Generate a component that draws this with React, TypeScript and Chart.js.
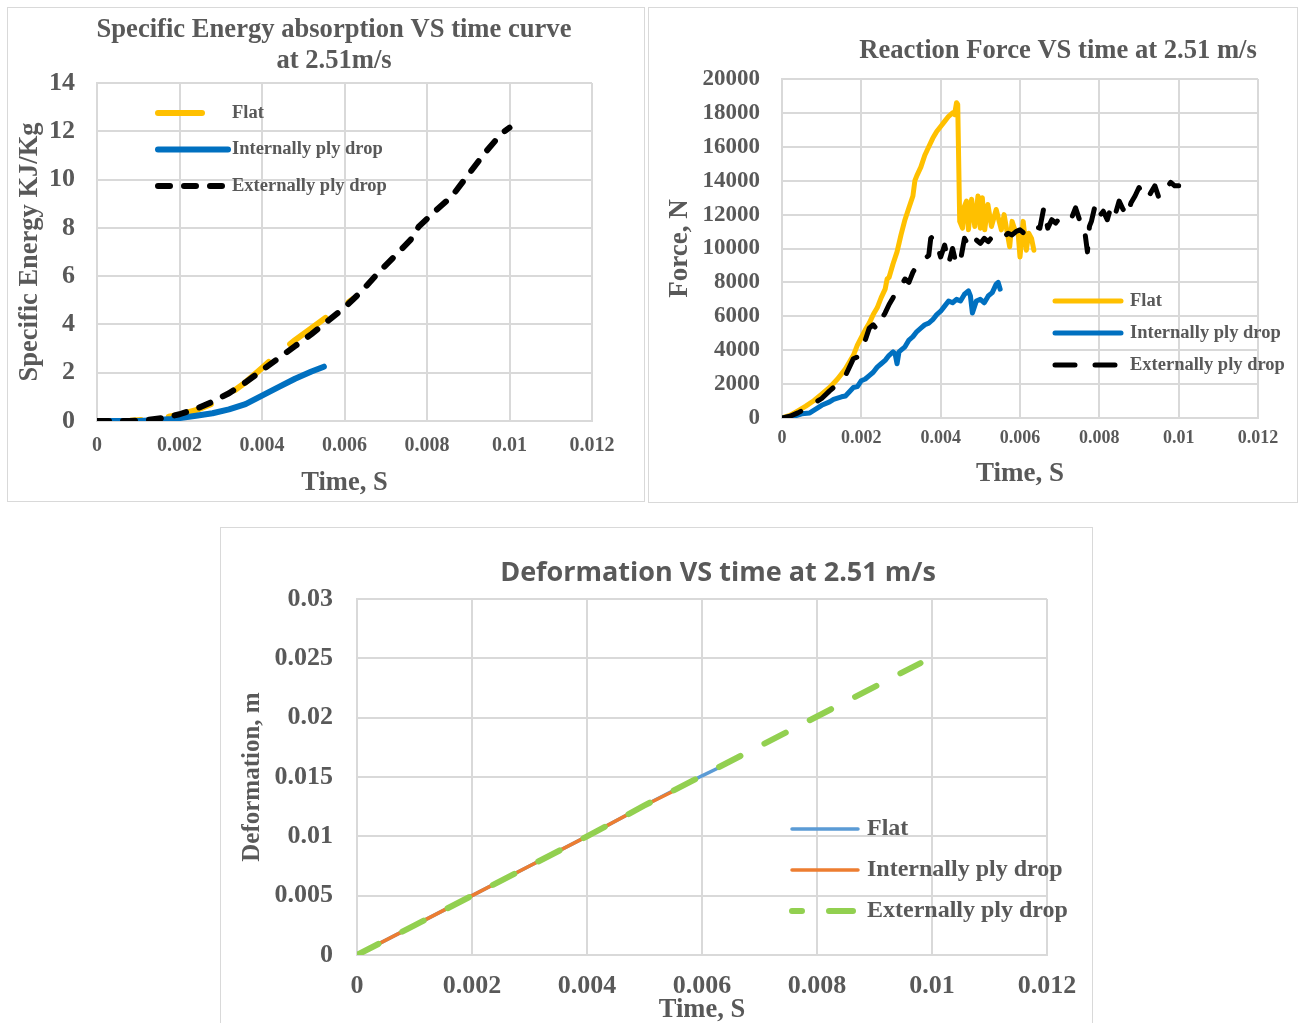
import React, { useEffect, useRef } from "react";
import { Chart, registerables } from "chart.js";

Chart.register(...registerables);

const SERIF = '"Liberation Serif", "Times New Roman", serif';
const SANS = '"Open Sans", "Noto Sans", sans-serif';
const GRAY = "#595959";
const GRID = "#D9D9D9";

// ---------- Chart 1: Specific energy ----------
const energyFlatTime = [0, 0.0008, 0.0012, 0.0016, 0.002, 0.0024, 0.0028, 0.0032, 0.0036, 0.004, 0.0044, 0.0048, 0.0052, 0.0056, 0.006, 0.0062];
const energyFlat = [0, 0.01, 0.05, 0.13, 0.26, 0.45, 0.72, 1.1, 1.6, 2.2, 2.8, 3.35, 3.85, 4.35, 4.8, 5.05];
const energyInternalTime = [0, 0.001, 0.0014, 0.0018, 0.002, 0.0024, 0.0028, 0.0032, 0.0036, 0.004, 0.0044, 0.0048, 0.0052, 0.0055];
const energyInternal = [0, 0, 0.03, 0.08, 0.12, 0.22, 0.32, 0.48, 0.7, 1.05, 1.4, 1.75, 2.05, 2.25];
const energyExternalTime = [0, 0.0008, 0.0012, 0.0016, 0.002, 0.0024, 0.0028, 0.0032, 0.0036, 0.004, 0.0044, 0.0048, 0.0052, 0.0056, 0.006, 0.0064, 0.0068, 0.0072, 0.0076, 0.0078, 0.0082, 0.0086, 0.009, 0.0094, 0.0098, 0.01];
const energyExternal = [0, 0, 0.04, 0.12, 0.28, 0.5, 0.8, 1.15, 1.6, 2.1, 2.6, 3.1, 3.6, 4.15, 4.7, 5.35, 6.1, 6.8, 7.5, 8.05, 8.7, 9.3, 10.2, 11.1, 11.9, 12.15];

// ---------- Chart 2: Reaction force ----------
const forceFlatTime = [0, 0.0002, 0.0004, 0.0006, 0.0008, 0.001, 0.0012, 0.0014, 0.0016, 0.0018, 0.0019, 0.002, 0.0021, 0.0022, 0.0023, 0.0024, 0.0025, 0.0026, 0.00265, 0.0027, 0.0028, 0.0029, 0.003, 0.0031, 0.0032, 0.0033, 0.00335, 0.0034, 0.0035, 0.0036, 0.0037, 0.0038, 0.0039, 0.004, 0.0041, 0.0042, 0.0043, 0.00435, 0.0044, 0.00443, 0.00448, 0.00455, 0.0046, 0.00465, 0.0047, 0.00478, 0.00486, 0.00494, 0.005, 0.00505, 0.00511, 0.00519, 0.00528, 0.0054, 0.00553, 0.0056, 0.00574, 0.0058, 0.00587, 0.00595, 0.006, 0.00608, 0.00616, 0.00622, 0.00629, 0.00635];
const forceFlat = [0, 150, 420, 700, 1020, 1400, 1800, 2300, 2900, 3700, 4300, 4750, 5200, 5600, 6100, 6500, 7100, 7600, 8200, 8300, 9100, 9800, 10800, 11700, 12400, 13100, 14000, 14300, 14800, 15500, 16000, 16500, 16900, 17200, 17500, 17800, 18000, 17900, 18600, 18500, 11600, 11200, 12500, 12800, 11100, 12900, 11300, 13100, 11200, 13000, 11100, 12600, 11300, 12300, 11100, 12000, 10100, 11600, 11100, 11000, 9500, 11600, 9900, 10900, 10600, 9900];
const forceInternalTime = [0, 0.0003, 0.0005, 0.0007, 0.0008, 0.001, 0.0012, 0.0013, 0.0015, 0.0016, 0.0017, 0.0018, 0.0019, 0.002, 0.0021, 0.0022, 0.0023, 0.0024, 0.0025, 0.0026, 0.0027, 0.0028, 0.00285, 0.0029, 0.00295, 0.003, 0.0031, 0.0032, 0.0033, 0.0034, 0.0035, 0.0036, 0.0037, 0.0038, 0.0039, 0.004, 0.0041, 0.0042, 0.0043, 0.0044, 0.0045, 0.0046, 0.0047, 0.00475, 0.0048, 0.0049, 0.005, 0.0051, 0.0052, 0.0053, 0.0054, 0.00545, 0.0055];
const forceInternal = [0, 100, 250, 300, 450, 750, 950, 1100, 1250, 1300, 1550, 1800, 1850, 2200, 2300, 2500, 2700, 3000, 3200, 3400, 3700, 3900, 3800, 3200, 3900, 4000, 4200, 4600, 4800, 5100, 5300, 5500, 5600, 5800, 6100, 6300, 6600, 6900, 6800, 7000, 6900, 7300, 7500, 7200, 6200, 6900, 7000, 6800, 7200, 7400, 7900, 8000, 7600];
const forceExternalTime = [0, 0.0002, 0.0004, 0.0006, 0.0008, 0.001, 0.0012, 0.0014, 0.0016, 0.0017, 0.0018, 0.0019, 0.002, 0.0021, 0.0022, 0.0023, 0.0024, 0.0025, 0.0026, 0.0027, 0.0028, 0.0029, 0.003, 0.0031, 0.0032, 0.0033, 0.0034, 0.0035, 0.0036, 0.0037, 0.00375, 0.0038, 0.0039, 0.004, 0.0041, 0.0042, 0.0043, 0.0044, 0.0045, 0.0046, 0.0047, 0.0048, 0.0049, 0.005, 0.0051, 0.0052, 0.0053, 0.0054, 0.0055, 0.0056, 0.0057, 0.0058, 0.0059, 0.006, 0.0061, 0.0062, 0.0063, 0.0064, 0.0065, 0.0066, 0.0067, 0.0068, 0.0069, 0.007, 0.0071, 0.0072, 0.0073, 0.0074, 0.0075, 0.0076, 0.0077, 0.00775, 0.0078, 0.0079, 0.008, 0.0081, 0.0082, 0.0083, 0.0084, 0.0085, 0.0086, 0.0087, 0.0088, 0.0089, 0.009, 0.0091, 0.0092, 0.0093, 0.0094, 0.0095, 0.0096, 0.0097, 0.0098, 0.0099, 0.01];
const forceExternal = [0, 100, 300, 550, 850, 1150, 1600, 2000, 2500, 3000, 3500, 3600, 4200, 4600, 5300, 5500, 5200, 5800, 6200, 6700, 7100, 7600, 7800, 8200, 8000, 8600, 9000, 9100, 9400, 9600, 10600, 10700, 10300, 9500, 10200, 9100, 10000, 9000, 9300, 10600, 10200, 10000, 10500, 10300, 10600, 10400, 10700, 10600, 10800, 10700, 10900, 10800, 11000, 11100, 10900, 11200, 11100, 11300, 11200, 12400, 11200, 11700, 11500, 11800, 11700, 11900, 11800, 12400, 11700, 11600, 9800, 11300, 11600, 12600, 11900, 12200, 11700, 12500, 12000, 12800, 12300, 11900, 12700, 13100, 13600, 13200, 12900, 13300, 13700, 13000, 13500, 13600, 13900, 13700, 13700];

// ---------- Chart 3: Deformation ----------
const deformFlatTime = [0, 0.001, 0.002, 0.003, 0.004, 0.005, 0.006, 0.0063];
const deformFlat = [0, 0.0025, 0.005, 0.0075, 0.01, 0.0126, 0.0151, 0.0158];
const deformInternalTime = [0, 0.001, 0.002, 0.003, 0.004, 0.005, 0.0055];
const deformInternal = [0, 0.0025, 0.005, 0.0075, 0.01, 0.0126, 0.0138];
const deformExternalTime = [0, 0.001, 0.002, 0.003, 0.004, 0.005, 0.006, 0.007, 0.008, 0.009, 0.0098];
const deformExternal = [0, 0.0025, 0.005, 0.0075, 0.01, 0.0126, 0.0151, 0.0176, 0.0201, 0.0226, 0.0246];

const seriesNames = ["Flat", "Internally ply drop", "Externally ply drop"];
const timeTicks = { min: 0, max: 0.012, step: 0.002 };

function pts(xs: number[], ys: number[]) {
  return xs.map((x, i) => ({ x, y: ys[i] }));
}

const fmt = (v: any) => String(parseFloat(Number(v).toFixed(4)));

function overlayPlugin(o: any) {
  return {
    id: "overlay",
    afterDraw(chart: any) {
      const ctx = chart.ctx;
      ctx.save();
      ctx.fillStyle = GRAY;
      ctx.font = o.titleFont;
      ctx.textAlign = "center";
      ctx.textBaseline = "middle";
      o.titleLines.forEach((l: string, i: number) => ctx.fillText(l, o.titleX, o.titleY + i * o.titleGap));
      chart.data.datasets.forEach((ds: any, i: number) => {
        const y = o.legendY + i * o.legendGap;
        ctx.beginPath();
        ctx.strokeStyle = ds.borderColor;
        ctx.lineWidth = ds.borderWidth;
        ctx.lineCap = "round";
        ctx.setLineDash(ds.borderDash || []);
        ctx.lineDashOffset = (o.dashOffsets && o.dashOffsets[i]) || 0;
        ctx.moveTo(o.legendX, y);
        ctx.lineTo(o.legendX + o.legendLen, y);
        ctx.stroke();
        ctx.setLineDash([]);
        ctx.fillStyle = GRAY;
        ctx.textAlign = "left";
        ctx.font = o.legendFont;
        ctx.fillText(ds.label, o.legendTextX, y);
      });
      ctx.restore();
    },
  };
}

function makeOptions(p: any) {
  return {
    responsive: false,
    maintainAspectRatio: false,
    animation: false,
    layout: { padding: { left: 0, top: p.top, right: p.right, bottom: 0 } },
    plugins: { legend: { display: false }, tooltip: { enabled: false }, title: { display: false } },
    elements: { point: { radius: 0 }, line: { tension: 0 } },
    scales: {
      x: {
        type: "linear",
        min: timeTicks.min,
        max: timeTicks.max,
        ticks: {
          stepSize: timeTicks.step,
          padding: p.xPad,
          color: GRAY,
          font: { family: SERIF, size: p.xTickSize, weight: "bold" },
          callback: fmt,
          maxRotation: 0,
          autoSkip: false,
        },
        grid: { color: GRID, lineWidth: 2, drawTicks: false },
        border: { color: GRID, width: 2 },
        title: {
          display: true,
          text: "Time, S",
          color: GRAY,
          font: { family: SERIF, size: p.xTitleSize, weight: "bold", lineHeight: p.xTitleLH || 1.2 },
          padding: { top: 0, bottom: p.xTitlePad },
        },
        afterFit: (s: any) => {
          s.height = p.xH;
        },
      },
      y: {
        type: "linear",
        min: p.yMin,
        max: p.yMax,
        ticks: {
          stepSize: p.yStep,
          padding: p.yPad,
          color: GRAY,
          font: { family: SERIF, size: p.yTickSize, weight: "bold" },
          callback: p.yFmt || fmt,
          autoSkip: false,
        },
        grid: { color: GRID, lineWidth: 2, drawTicks: false },
        border: { color: GRID, width: 2 },
        title: {
          display: true,
          text: p.yTitle,
          color: GRAY,
          font: { family: SERIF, size: p.yTitleSize, weight: "bold" },
          padding: { top: p.yTitlePad, bottom: 0 },
        },
        afterFit: (s: any) => {
          s.width = p.yW;
        },
      },
    },
  };
}

function ChartBox(props: any) {
  const ref = useRef<HTMLCanvasElement>(null);
  useEffect(() => {
    const chart = new Chart(ref.current as HTMLCanvasElement, {
      type: "line",
      data: { datasets: props.datasets },
      options: props.options as any,
      plugins: [props.plugin],
    } as any);
    return () => chart.destroy();
  }, []);
  return (
    <div style={{ position: "absolute", left: props.left, top: props.top, width: props.width, height: props.height }}>
      <canvas ref={ref} width={props.width} height={props.height} style={{ display: "block", width: props.width, height: props.height }} />
      <div
        style={{
          position: "absolute",
          left: 0,
          top: 0,
          width: props.width,
          height: props.height,
          boxSizing: "border-box",
          border: "1px solid " + GRID,
          borderBottom: props.noBottom ? "none" : "1px solid " + GRID,
          pointerEvents: "none",
        }}
      />
    </div>
  );
}

function lineDs(label: string, data: any[], color: string, width: number, dash: number[], order: number) {
  return {
    label,
    data,
    borderColor: color,
    backgroundColor: color,
    borderWidth: width,
    borderDash: dash,
    borderCapStyle: "round",
    borderJoinStyle: "round",
    pointRadius: 0,
    fill: false,
    order,
  };
}

export default function App() {
  const energySets = [
    lineDs(seriesNames[0], pts(energyFlatTime, energyFlat), "#FFC000", 6, [44, 28], 3),
    lineDs(seriesNames[1], pts(energyInternalTime, energyInternal), "#0070C0", 6, [], 2),
    lineDs(seriesNames[2], pts(energyExternalTime, energyExternal), "#000000", 6, [12, 14], 1),
  ];
  const energyOpts = makeOptions({
    top: 76, right: 53, xH: 81, yW: 90,
    xPad: 13, xTickSize: 20, xTitleSize: 26.5, xTitlePad: 3,
    yMin: 0, yMax: 14, yStep: 2, yPad: 22, yTickSize: 26,
    yTitle: "Specific Energy KJ/Kg", yTitleSize: 26.5, yTitlePad: 7,
    yFmt: (v: any) => String(v),
  });
  const energyPlugin = overlayPlugin({
    titleFont: `bold 26.6px ${SERIF}`,
    titleLines: ["Specific Energy absorption VS time curve", "at 2.51m/s"],
    titleX: 327, titleY: 23, titleGap: 31,
    legendX: 151, legendLen: 70, legendY: 106, legendGap: 36.5, legendTextX: 225,
    legendFont: `bold 18.5px ${SERIF}`,
  });

  const forceSets = [
    lineDs(seriesNames[0], pts(forceFlatTime, forceFlat), "#FFC000", 5, [], 3),
    lineDs(seriesNames[1], pts(forceInternalTime, forceInternal), "#0070C0", 5, [], 2),
    lineDs(seriesNames[2], pts(forceExternalTime, forceExternal), "#000000", 5, [20, 20], 1),
  ];
  const forceOpts = makeOptions({
    top: 72, right: 40, xH: 85, yW: 134,
    xPad: 10, xTickSize: 18, xTitleSize: 27, xTitlePad: 13,
    yMin: 0, yMax: 20000, yStep: 2000, yPad: 22, yTickSize: 23,
    yTitle: "Force, N", yTitleSize: 27, yTitlePad: 16,
    yFmt: (v: any) => String(v),
  });
  const forcePlugin = overlayPlugin({
    titleFont: `bold 26.6px ${SERIF}`,
    titleLines: ["Reaction Force VS time at 2.51 m/s"],
    titleX: 410, titleY: 44, titleGap: 0,
    legendX: 407, legendLen: 66, legendY: 294, legendGap: 32, legendTextX: 482,
    legendFont: `bold 18.5px ${SERIF}`,
  });

  const deformSets = [
    lineDs(seriesNames[0], pts(deformFlatTime, deformFlat), "#5B9BD5", 3.5, [], 3),
    lineDs(seriesNames[1], pts(deformInternalTime, deformInternal), "#ED7D31", 3.5, [], 2),
    lineDs(seriesNames[2], pts(deformExternalTime, deformExternal), "#92D050", 6, [24, 27], 1),
  ];
  const deformOpts = makeOptions({
    top: 72, right: 46, xH: 68, yW: 137,
    xPad: 16, xTickSize: 26, xTitleSize: 26.5, xTitlePad: 0, xTitleLH: 1.0,
    yMin: 0, yMax: 0.03, yStep: 0.005, yPad: 24, yTickSize: 26,
    yTitle: "Deformation, m", yTitleSize: 25, yTitlePad: 18,
  });
  const deformPlugin = overlayPlugin({
    titleFont: `bold 27px ${SANS}`,
    titleLines: ["Deformation VS time at 2.51 m/s"],
    titleX: 498, titleY: 46, titleGap: 0,
    legendX: 572, legendLen: 66, legendY: 302, legendGap: 41, legendTextX: 647,
    legendFont: `bold 24px ${SERIF}`,
    dashOffsets: [0, 0, 14],
  });

  return (
    <div>
      <ChartBox left={7} top={7} width={638} height={495} datasets={energySets} options={energyOpts} plugin={energyPlugin} />
      <ChartBox left={648} top={7} width={650} height={496} datasets={forceSets} options={forceOpts} plugin={forcePlugin} />
      <ChartBox left={220} top={527} width={873} height={496} datasets={deformSets} options={deformOpts} plugin={deformPlugin} noBottom />
    </div>
  );
}
